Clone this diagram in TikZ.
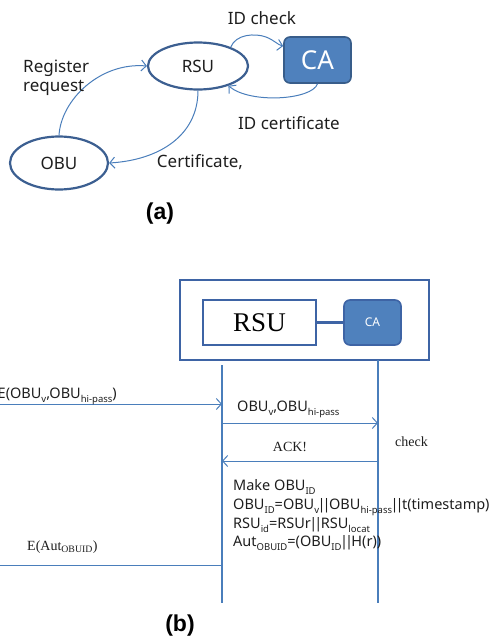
\documentclass[tikz,border=0pt]{standalone}
\usepackage{fontspec}
\setmainfont{Noto Sans}
\newfontfamily\timesface{Liberation Serif}
\newfontfamily\arialface{Liberation Sans}
\usetikzlibrary{shapes.geometric,arrows.meta}

\definecolor{flowblue}{RGB}{74,126,187}
\definecolor{rimblue}{RGB}{60,95,145}
\definecolor{cafill}{RGB}{79,129,189}
\definecolor{caedge}{RGB}{56,93,138}
\definecolor{boxblue}{RGB}{62,100,165}
\definecolor{ink}{RGB}{30,30,30}

% tight concatenation bars and small lowered indices
\newcommand\catbar{\kern-1.5pt|\kern-3pt|\kern-1.5pt}
\newcommand\idx[1]{\raisebox{-0.28em}{\fontsize{9.5}{10}\selectfont #1}}

\tikzset{
  flow/.style={draw=flowblue, line width=1pt, -{Straight Barb[length=5pt,width=11pt]}},
  state/.style={ellipse, draw=rimblue, line width=2.2pt, inner sep=0pt,
    font=\fontsize{17}{20}\selectfont, text=ink},
  authority/.style={rectangle, rounded corners=6pt, fill=cafill, draw=caedge,
    line width=1.6pt, text=white, inner sep=0pt},
  lbl/.style={font=\fontsize{17}{20}\selectfont, text=ink, inner sep=0pt},
  msg/.style={font=\fontsize{14.5}{18.7}\selectfont, text=ink, inner sep=0pt},
  serifmsg/.style={font=\timesface\fontsize{14}{17}\selectfont, text=ink, inner sep=0pt},
  caption/.style={font=\arialface\bfseries\fontsize{23}{26}\selectfont, text=black, inner sep=0pt},
  frame/.style={draw=boxblue, line width=2.2pt},
  lifeline/.style={draw=flowblue, line width=1.1pt}
}

\begin{document}
\begin{tikzpicture}[x=1pt,y=1pt]
\useasboundingbox (0,0) rectangle (494,-643);
\clip (0,0) rectangle (494,-643);

% ---------------- (a) registration overview ----------------
\node[state, minimum width=100pt, minimum height=47pt] (rsu) at (198,-66) {RSU};
\node[state, minimum width=98pt, minimum height=53pt] (obu) at (59,-163) {OBU};
\node[authority, minimum width=67pt, minimum height=46pt,
      font=\fontsize{26}{28}\selectfont] (ca) at (317.5,-60) {CA};

\draw[flow] (obu.north) .. controls (61,-100) and (100,-62) .. (rsu.west);
\draw[flow] (rsu.south) .. controls (198,-135) and (160,-160) .. (obu.east);
\draw[flow] (rsu.30) .. controls (236,-34) and (255,-33) .. (266,-37)
            .. controls (274,-40) and (278,-45) .. ([yshift=14pt]ca.west);
\draw[flow] (ca.south) .. controls (312,-100) and (250,-104) .. (rsu.-33);

\node[lbl, anchor=base west] (reqlbl1) at (23,-72) {Register};
\node[lbl, anchor=base west] (reqlbl2) at (23,-91) {request};
\node[lbl, anchor=base] (chklbl) at (262,-24) {ID check};
\node[lbl, anchor=base] (idcert) at (289,-129) {ID certificate};
\node[lbl, anchor=base] (certlbl) at (200,-167) {Certificate,};
\node[caption] (capa) at (160,-214) {(a)};

% ---------------- (b) message sequence ----------------
\node[frame, minimum width=249pt, minimum height=80pt, inner sep=0pt] (outer) at (304.5,-320) {};
\node[draw=boxblue, line width=2pt, minimum width=113pt, minimum height=45pt,
      inner sep=0pt, font=\timesface\fontsize{27}{30}\selectfont, text=black] (rsub) at (259.5,-322.5) {RSU};
\node[authority, minimum width=57pt, minimum height=45pt, draw=boxblue,
      font=\fontsize{12}{14}\selectfont] (cab) at (372.5,-322.5) {CA};
\draw[draw=boxblue, line width=3pt] (rsub.east) -- (cab.west);

% lifelines
\coordinate (lt) at (222,-365);
\coordinate (lb) at (222,-603);
\coordinate (rt) at (378,-360);
\coordinate (rb) at (378,-603);
\draw[lifeline] (lt) -- (lb);
\draw[lifeline] (rt) -- (rb);

% message end points
\coordinate (m1s) at (-2,-404);  \coordinate (m1e) at (222,-404);
\coordinate (m2s) at (222,-423); \coordinate (m2e) at (378,-423);
\coordinate (m3s) at (378,-461); \coordinate (m3e) at (222,-461);
\coordinate (m4s) at (222,-565); \coordinate (m4e) at (-14,-565);

\draw[flow] (m1s) -- (m1e);
\draw[flow] (m2s) -- (m2e);
\draw[flow] (m3s) -- (m3e);
\draw[flow] (m4s) -- (m4e);

\node[msg, anchor=base east] (t1) at (117,-398)
  {E(OBU\idx{v},OBU\idx{hi-pass})};
\node[msg, anchor=base west] (t2) at (237,-411)
  {OBU\idx{v},OBU\idx{hi-pass}};
\node[serifmsg, anchor=base] (t3) at (290,-451) {ACK!};
\node[serifmsg, anchor=base west] (t4) at (395,-446) {check};
\node[msg, anchor=base west] (t5a) at (233,-490.7) {Make OBU\idx{ID}};
\node[msg, anchor=base west] (t5b) at (233,-509.4)
  {OBU\idx{ID}=OBU\idx{v}\catbar OBU\idx{hi-pass}\catbar t(timestamp)};
\node[msg, anchor=base west] (t5c) at (233,-528.1)
  {RSU\idx{id}=RSUr\catbar RSU\idx{locat}};
\node[msg, anchor=base west] (t5d) at (233,-546.8)
  {Aut\idx{OBUID}=(OBU\idx{ID}\catbar H(r))};
\node[serifmsg, anchor=base west] (t6) at (27,-550) {E(Aut\textsubscript{OBUID})};
\node[caption] (capb) at (180,-626) {(b)};
\end{tikzpicture}
\end{document}
